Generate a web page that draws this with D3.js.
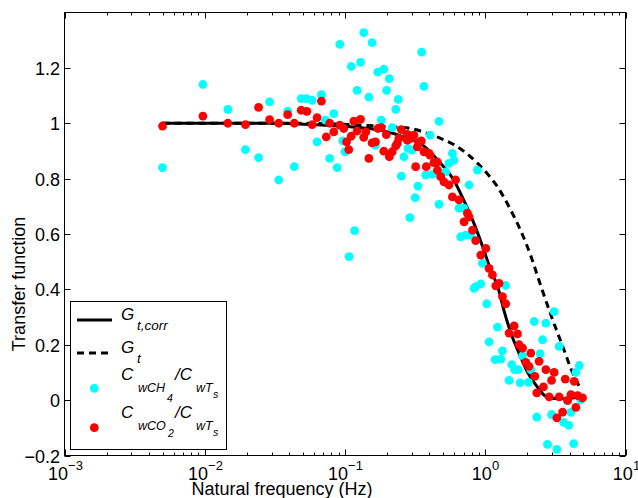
<!DOCTYPE html>
<html>
<head>
<meta charset="utf-8">
<script src="https://cdn.jsdelivr.net/npm/d3@7"></script>
<style>
  body { margin: 0; background: #fff; }
  svg text { font-family: "Liberation Sans", Arial, sans-serif; fill: #000; }
</style>
</head>
<body>
<svg id="chart" width="638" height="498"></svg>
<script>
// CH4 scatter (cyan)
const ch4Freq = [0.005, 0.0097, 0.0146, 0.0195, 0.0242, 0.029, 0.0337, 0.039, 0.0435, 0.0487,
  0.0531, 0.0584, 0.0679, 0.0632, 0.0725, 0.0778, 0.0832, 0.0879, 0.0918, 0.107,
  0.117, 0.1, 0.0964, 0.165, 0.111, 0.129, 0.136, 0.156, 0.122, 0.148,
  0.171, 0.189, 0.207, 0.198, 0.24, 0.23, 0.1815, 0.217, 0.352, 0.366,
  0.404, 0.263, 0.252, 0.331, 0.316, 0.29, 0.376, 0.281, 0.3, 0.468,
  0.468, 0.42, 0.583, 0.598, 0.551, 0.522, 0.879, 0.766, 0.65, 0.706,
  0.668, 0.726, 0.786, 0.955, 0.855, 0.929, 1.4, 0.832, 1.025, 1.222,
  1.064, 1.327, 1.175, 1.29, 1.546, 1.62, 1.72, 1.479, 1.774, 2.035,
  1.845, 2.113, 2.46, 2.233, 2.705, 3.1, 2.564, 3.366, 4.68, 4.43,
  4.8, 2.33, 2.97, 3.62, 3.94, 4.08, 2.78, 3.24, 4.27, 3.86];
const ch4Val = [0.84, 1.14, 1.05, 0.905, 0.876, 1.077, 0.795, 1.044, 0.843, 1.089,
  1.089, 1.083, 1.103, 0.933, 1.011, 0.873, 1.035, 0.84, 1.285, 0.518,
  0.612, 0.897, 0.936, 0.921, 1.205, 1.22, 1.327, 1.291, 1.119, 1.094,
  1.185, 1.195, 1.161, 1.119, 1.086, 1.05, 1.011, 0.984, 1.257, 1.133,
  0.957, 0.879, 0.809, 0.773, 0.731, 0.659, 0.813, 0.909, 0.903, 1.007,
  0.707, 0.815, 0.891, 0.867, 0.855, 0.824, 0.831, 0.777, 0.693, 0.693,
  0.59, 0.596, 0.596, 0.494, 0.41, 0.42, 0.414, 0.404, 0.348, 0.264,
  0.21, 0.178, 0.146, 0.148, 0.128, 0.11, 0.11, 0.071, 0.062, 0.064,
  0.16, 0.11, 0.168, 0.284, 0.278, 0.32, 0.218, 0.194, 0.125, 0.1,
  0.002, -0.061, -0.052, -0.08, -0.091, -0.044, -0.16, -0.178, -0.157, -0.003];

// CO2 scatter (red)
const co2Freq = [0.005, 0.0097, 0.0146, 0.0195, 0.0242, 0.029, 0.0337, 0.039, 0.0435, 0.0487,
  0.0535, 0.0679, 0.0584, 0.0632, 0.0735, 0.0778, 0.0832, 0.0918, 0.098, 0.1026,
  0.1064, 0.1107, 0.1156, 0.129, 0.122, 0.136, 0.141, 0.148, 0.156, 0.165,
  0.1714, 0.181, 0.197, 0.189, 0.207, 0.217, 0.23, 0.242, 0.252, 0.278,
  0.294, 0.319, 0.35, 0.38, 0.236, 0.278, 0.328, 0.366, 0.404, 0.456,
  0.43, 0.397, 0.456, 0.481, 0.508, 0.551, 0.615, 0.583, 0.65, 0.746,
  0.706, 0.766, 0.811, 0.855, 1.009, 0.929, 1.064, 1.125, 1.255, 1.188,
  1.327, 1.4, 1.606, 1.479, 1.698, 1.743, 1.845, 2.113, 1.946, 2.05,
  2.42, 2.258, 2.705, 3.1, 2.97, 2.6, 2.33, 2.857, 3.366, 3.716,
  4.31, 3.865, 4.08, 4.56, 4.94, 4.43, 3.56, 3.24, 0.31, 0.335];
const co2Val = [0.99, 1.026, 1.0, 0.995, 1.057, 1.013, 1.0, 1.031, 1.0, 1.047,
  1.043, 1.08, 0.995, 1.02, 0.951, 1.0, 0.969, 0.993, 0.981, 0.933,
  0.905, 0.953, 1.008, 1.014, 0.972, 0.949, 0.969, 0.873, 0.929, 0.933,
  0.981, 0.984, 0.959, 0.899, 0.879, 0.897, 0.918, 0.945, 0.977, 0.96,
  0.945, 0.843, 0.936, 0.843, 0.927, 0.939, 0.915, 0.897, 0.885, 0.86,
  0.858, 0.891, 0.831, 0.807, 0.788, 0.777, 0.795, 0.734, 0.723, 0.675,
  0.644, 0.662, 0.614, 0.576, 0.548, 0.524, 0.476, 0.452, 0.422, 0.413,
  0.374, 0.348, 0.268, 0.242, 0.239, 0.2, 0.188, 0.17, 0.136, 0.122,
  0.14, 0.086, 0.11, 0.1, 0.071, 0.048, 0.026, 0.012, 0.012, 0.076,
  0.068, -0.001, 0.02, 0.016, 0.008, -0.026, -0.043, -0.064, 0.957, 0.93];

// G_t,corr (solid)
const corrFreq = [0.005, 0.0294, 0.0596, 0.104, 0.1795, 0.262, 0.358, 0.466, 0.596, 0.701,
  0.828, 0.96, 1.095, 1.228, 1.356, 1.521, 1.735, 2.012, 2.371, 2.705, 3.296, 4.08, 4.656];
const corrVal = [1.0, 1.0, 0.995, 0.988, 0.975, 0.951, 0.921, 0.863, 0.795, 0.723,
  0.64, 0.553, 0.47, 0.409, 0.326, 0.243, 0.171, 0.099, 0.045, 0.014, 0.005, 0.007, 0.011];

// G_t (dashed)
const gtFreq = [0.005, 0.0481, 0.1094, 0.2113, 0.2938, 0.388, 0.481, 0.596, 0.726, 0.883,
  1.042, 1.228, 1.521, 1.793, 2.113, 2.41, 2.937, 3.64, 4.08, 4.656];
const gtVal = [1.0, 1.0, 0.995, 0.987, 0.981, 0.963, 0.945, 0.923, 0.894, 0.855,
  0.816, 0.769, 0.686, 0.611, 0.521, 0.434, 0.308, 0.182, 0.114, 0.052];

const yTicks = [-0.2, 0, 0.2, 0.4, 0.6, 0.8, 1, 1.2];
const xTickExp = [-3, -2, -1, 0, 1];

const svg = d3.select("#chart");
const L = 64.5, R = 625.5, T = 12.5, B = 455.5;

const x = d3.scaleLog().domain([1e-3, 10]).range([L, R]);
const y = d3.scaleLinear().domain([-0.2, 1.4]).range([B, T]);

const fmt = v => (v < 0 ? "\u2212" : "") + String(Math.abs(v));

// curves
const line = d3.line().x(d => x(d[0])).y(d => y(d[1])).curve(d3.curveMonotoneX);

svg.append("path")
  .attr("d", line(gtFreq.map((f, i) => [f, gtVal[i]])))
  .attr("fill", "none").attr("stroke", "#000")
  .attr("stroke-width", 3).attr("stroke-dasharray", "7,5");

svg.append("path")
  .attr("d", line(corrFreq.map((f, i) => [f, corrVal[i]])))
  .attr("fill", "none").attr("stroke", "#000")
  .attr("stroke-width", 3);

// scatter
svg.append("g").selectAll("circle")
  .data(ch4Freq.map((f, i) => [f, ch4Val[i]]))
  .enter().append("circle")
    .attr("cx", d => x(d[0])).attr("cy", d => y(d[1]))
    .attr("r", 4.4).attr("fill", "#00ffff");

svg.append("g").selectAll("circle")
  .data(co2Freq.map((f, i) => [f, co2Val[i]]))
  .enter().append("circle")
    .attr("cx", d => x(d[0])).attr("cy", d => y(d[1]))
    .attr("r", 4.4).attr("fill", "#ff0000");

// axes box and ticks
const ax = svg.append("g").attr("stroke", "#000").attr("stroke-width", 1);
ax.append("rect").attr("x", L).attr("y", T).attr("width", R - L).attr("height", B - T)
  .attr("fill", "none");

yTicks.forEach(v => {
  const yy = Math.round(y(v)) + 0.5;
  ax.append("line").attr("x1", L).attr("x2", L + 6).attr("y1", yy).attr("y2", yy);
  ax.append("line").attr("x1", R - 6).attr("x2", R).attr("y1", yy).attr("y2", yy);
  svg.append("text").attr("x", 60).attr("y", yy + 6.5)
    .attr("text-anchor", "end").attr("font-size", 18).text(fmt(v));
});

xTickExp.forEach((e, k) => {
  const xx = Math.round(x(Math.pow(10, e))) + 0.5;
  ax.append("line").attr("x1", xx).attr("x2", xx).attr("y1", B).attr("y2", B - 6);
  ax.append("line").attr("x1", xx).attr("x2", xx).attr("y1", T).attr("y2", T + 6);
  if (k < xTickExp.length - 1) {
    for (let m = 2; m <= 9; m++) {
      const xm = Math.round(x(m * Math.pow(10, e))) + 0.5;
      ax.append("line").attr("x1", xm).attr("x2", xm).attr("y1", B).attr("y2", B - 3);
      ax.append("line").attr("x1", xm).attr("x2", xm).attr("y1", T).attr("y2", T + 3);
    }
  }
  const t = svg.append("text").attr("x", xx).attr("y", 480)
    .attr("text-anchor", "middle").attr("font-size", 18);
  t.append("tspan").text("10");
  t.append("tspan").attr("dy", -10).attr("font-size", 13).text(fmt(e));
});

// axis labels
svg.append("text").attr("x", 282).attr("y", 495)
  .attr("text-anchor", "middle").attr("font-size", 18).text("Natural frequency (Hz)");
svg.append("text").attr("transform", "translate(25,284) rotate(-90)")
  .attr("text-anchor", "middle").attr("font-size", 18).text("Transfer function");

// legend
const lg = svg.append("g");
lg.append("rect").attr("x", 70.5).attr("y", 301.5).attr("width", 156).attr("height", 148)
  .attr("fill", "#fff").attr("stroke", "#000").attr("stroke-width", 1);
lg.append("line").attr("x1", 77).attr("x2", 112).attr("y1", 320).attr("y2", 320)
  .attr("stroke", "#000").attr("stroke-width", 3);
lg.append("line").attr("x1", 77).attr("x2", 112).attr("y1", 353).attr("y2", 353)
  .attr("stroke", "#000").attr("stroke-width", 3).attr("stroke-dasharray", "7,5");
lg.append("circle").attr("cx", 94.3).attr("cy", 388.3).attr("r", 4.4).attr("fill", "#00ffff");
lg.append("circle").attr("cx", 94.3).attr("cy", 427.7).attr("r", 4.4).attr("fill", "#ff0000");

function legendText(parts) {
  const t = lg.append("text").attr("font-style", "italic");
  parts.forEach(p => {
    t.append("tspan").attr("x", p[0]).attr("y", p[1]).attr("font-size", p[2]).text(p[3]);
  });
}
legendText([[121, 320, 17, "G"], [137, 330, 13.5, "t,corr"]]);
legendText([[121, 353, 17, "G"], [137, 363, 13.5, "t"]]);
legendText([[121, 380, 17, "C"], [138, 391.5, 12.5, "wCH"], [167, 401.5, 10.5, "4"],
  [175, 380, 17, "/C"], [196, 391.5, 12.5, "wT"], [213, 398, 10.5, "s"]]);
legendText([[121, 418, 17, "C"], [138, 430, 12.5, "wCO"], [168, 437, 10.5, "2"],
  [175, 418, 17, "/C"], [196, 430, 12.5, "wT"], [213, 435.5, 10.5, "s"]]);
</script>
</body>
</html>
